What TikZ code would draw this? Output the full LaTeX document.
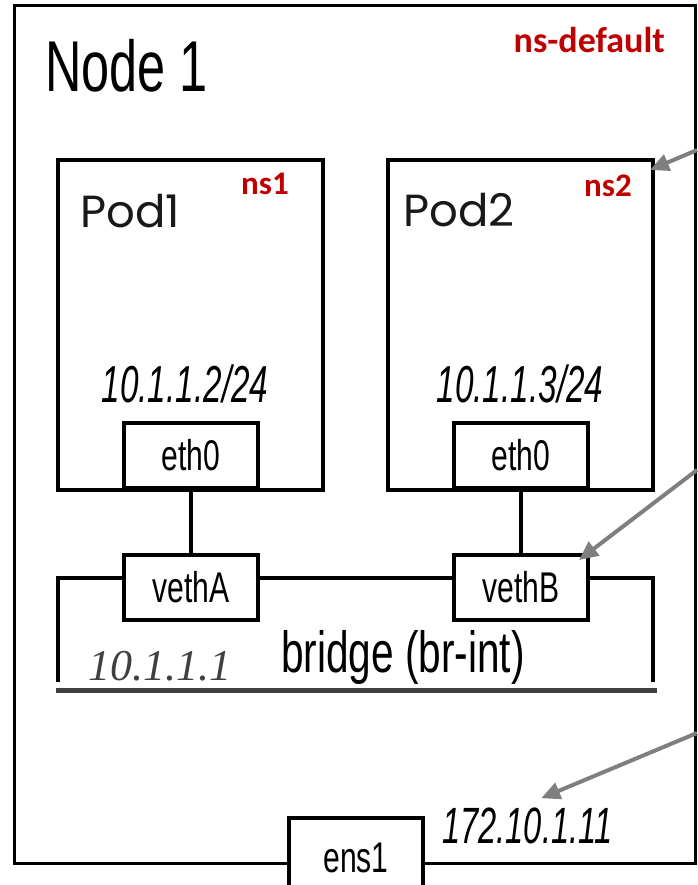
\documentclass[tikz,border=0pt]{standalone}
\usepackage{fontspec}
\setmainfont{Liberation Sans}
\newfontfamily\condfont[FakeStretch=0.7]{Liberation Sans}
\newfontfamily\ipfont[FakeStretch=0.64]{Liberation Sans}
\newfontfamily\podfont{Poppins}
\newfontfamily\nsfont{Carlito}
\newfontfamily\serifit{Liberation Serif}
\usetikzlibrary{arrows.meta}
\definecolor{nsred}{HTML}{C00000}
\definecolor{arrowgray}{HTML}{7F7F7F}
\definecolor{bridgegray}{HTML}{404040}
\tikzset{
  wire/.style={line width=4pt},
  podbox/.style={draw, line width=4pt, minimum width=265pt, minimum height=330pt, inner sep=0pt},
  ifbox/.style={draw, fill=white, line width=4pt, minimum width=134pt, minimum height=65pt, inner sep=0pt,
    font=\condfont\fontsize{43}{43}\selectfont},
  nslabel/.style={text=nsred, anchor=base, inner sep=0pt, font=\nsfont\bfseries\fontsize{33}{33}\selectfont},
  podlabel/.style={anchor=base west, inner sep=0pt, text=black!90, font=\podfont\fontsize{45}{45}\selectfont},
  iplabel/.style={anchor=base, inner sep=0pt, font=\ipfont\itshape\fontsize{52}{52}\selectfont},
  pointer/.style={draw=arrowgray, line width=4pt, -{Triangle[length=19pt,width=17pt]}}
}
\begin{document}
\begin{tikzpicture}[x=1pt, y=-1pt]
    \useasboundingbox (0,0) rectangle (697,885);
    % host frame
    \draw [line width=3pt] (14,6) rectangle (695,863);
    \node [anchor=base west, inner sep=0pt, font=\condfont\fontsize{72}{72}\selectfont] (hosttitle) at (45,92) {Node 1};
    \node [nslabel, anchor=base east, font=\nsfont\bfseries\fontsize{36}{36}\selectfont] (nsdefault) at (665,53) {ns-default};
    % pods
    \node [podbox] (podone) at (190.5,325) {};
    \node [podbox] (podtwo) at (520.5,325) {};
    \node [podlabel] (podonename) at (80,228) {Pod1};
    \node [podlabel] (podtwoname) at (403,226) {Pod2};
    \node [nslabel] (nsone) at (265,195) {ns1};
    \node [nslabel] (nstwo) at (608,197) {ns2};
    \node [iplabel] (podoneip) at (185,402) {10.1.1.2/24};
    \node [iplabel] (podtwoip) at (520,402) {10.1.1.3/24};
    \node [ifbox] (ethone) at (191,455) {eth0};
    \node [ifbox] (ethtwo) at (521,455) {eth0};
    % bridge
    \coordinate (brTL) at (58,578);
    \coordinate (brTR) at (653,578);
    \coordinate (brBL) at (58,682);
    \coordinate (brBR) at (653,682);
    \draw [wire] (brBL) -- (brTL) -- (brTR) -- (brBR);
    \draw [bridgegray, line width=5pt] (56,690) -- (657,690);
    \node [ifbox] (vetha) at (191,587.5) {vethA};
    \node [ifbox] (vethb) at (521,587.5) {vethB};
    \draw [wire] (ethone) -- (vetha);
    \draw [wire] (ethtwo) -- (vethb);
    \node [anchor=base, inner sep=0pt, font=\condfont\fontsize{58}{58}\selectfont] (brname) at (403,672) {bridge (br-int)};
    \node [anchor=base west, inner sep=0pt, text=bridgegray, font=\serifit\itshape\fontsize{44}{44}\selectfont] (brip) at (88,680) {10.1.1.1};
    % host interface
    \node [ifbox, minimum height=80pt] (ensone) at (356,858) {ens1};
    \node [iplabel, anchor=base west, font=\ipfont\itshape\fontsize{51}{51}\selectfont] (hostip) at (442,843) {172.10.1.11};
    % pointers from the right edge
    \coordinate (nsfrom) at (697,150);
    \coordinate (vethfrom) at (697,470);
    \coordinate (ipfrom) at (697,733);
    \draw [pointer] (nsfrom) -- ([shift={(-5,12)}]podtwo.north east);
    \draw [pointer] (vethfrom) -- ([shift={(-11,7)}]vethb.north east);
    \draw [pointer] (ipfrom) -- ([shift={(14,-9)}]hostip.north);
\end{tikzpicture}
\end{document}
